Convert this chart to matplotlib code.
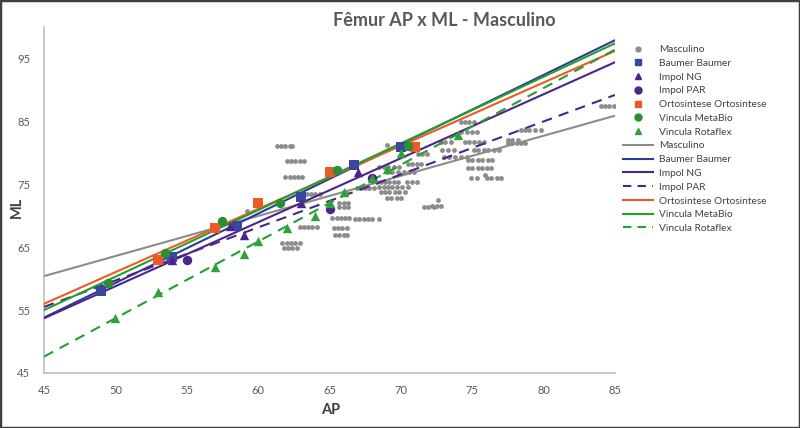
import matplotlib
matplotlib.use("Agg")
import matplotlib.pyplot as plt
from matplotlib.lines import Line2D
from matplotlib.patches import Rectangle

plt.rcParams['font.family'] = ['Lato', 'DejaVu Sans']

# Masculino sample: rows of (ML, [AP values])
masc_rows = [
    (81.1, [61.3, 61.6, 61.9, 62.2, 62.4]),
    (78.7, [62.0, 62.3, 62.6, 62.9, 63.2]),
    (76.2, [61.9, 62.2, 62.5, 62.8, 63.1]),
    (70.8, [59.2]),
    (73.5, [63.4, 63.7, 64.0, 64.3]),
    (68.2, [62.9, 63.2, 63.5, 63.8, 64.1]),
    (65.7, [61.7, 62.0, 62.3, 62.6, 62.9]),
    (64.9, [61.8, 62.1, 62.4, 62.7]),
    (72.0, [65.7, 66.0, 66.3]),
    (71.4, [65.7, 66.0, 66.3]),
    (69.6, [65.2, 65.5, 65.8, 66.1, 66.4]),
    (68.1, [65.3, 65.6, 65.9, 66.2]),
    (66.9, [65.4, 65.7, 66.0, 66.2]),
    (69.5, [66.8, 67.1, 67.4, 67.7, 68.0, 68.5]),
    (74.4, [66.9, 67.2, 67.5, 67.8, 68.1]),
    (77.8, [68.5, 68.8, 69.1, 69.5, 69.9]),
    (77.0, [69.0, 69.4, 69.8, 70.2, 70.6, 70.9]),
    (75.4, [68.3, 68.6, 68.9, 69.2, 69.5, 69.8, 70.4, 70.8, 71.1]),
    (74.6, [68.5, 68.8, 69.1, 69.4, 69.7, 70.1, 70.5]),
    (73.8, [68.6, 68.9, 69.2, 69.6, 69.9, 70.3]),
    (72.8, [69.0, 69.3, 69.7, 70.0]),
    (71.4, [71.6, 71.9, 72.3]),
    (71.6, [72.2, 72.5, 72.8]),
    (72.5, [72.6]),
    (81.2, [69.0]),
    (79.8, [71.2, 71.5, 71.8]),
    (78.3, [70.5, 70.8, 71.1, 71.4]),
    (84.9, [74.2, 74.5, 74.8, 75.1]),
    (83.3, [74.2, 74.6, 75.0, 75.3]),
    (81.7, [72.8, 73.1, 73.5, 74.5, 74.8, 75.1, 75.5, 75.8]),
    (80.5, [72.9, 73.3, 73.7, 75.1, 75.4, 75.8, 76.1, 76.5, 76.9]),
    (79.4, [73.0, 73.4, 73.8, 74.2, 74.6]),
    (78.9, [74.7, 75.0, 75.4, 75.7, 76.1, 76.4]),
    (77.6, [74.7, 75.0, 75.4, 75.7, 76.0, 76.3]),
    (76.5, [75.9]),
    (76.0, [74.9, 75.3, 76.0, 76.3, 76.7, 77.0]),
    (83.6, [78.4, 78.7, 79.0, 79.4, 79.8]),
    (81.6, [77.5, 77.8, 78.1, 78.4, 78.7]),
    (82.0, [77.5, 77.8, 78.2]),
    (87.5, [84.0, 84.3, 84.6, 84.9]),
]
masc_ap = [a for ml, aps in masc_rows for a in aps]
masc_ml = [ml for ml, aps in masc_rows for a in aps]

baumer_ap = [49, 54, 58.5, 63, 66.7, 70]
baumer_ml = [58, 63.5, 68.3, 73, 78, 81]
impol_ng_ap = [54, 58, 59, 63, 67]
impol_ng_ml = [63, 68.3, 67, 72, 77]
impol_par_ap = [55, 65, 68]
impol_par_ml = [63, 71, 76]
orto_ap = [53, 57, 60, 65, 71]
orto_ml = [63, 68, 72, 77, 81]
metabio_ap = [49.5, 53.5, 57.5, 61.5, 65.5, 70.5]
metabio_ml = [59.3, 64, 69.2, 72, 77.2, 81.1]
rotaflex_ap = [50, 53, 57, 59, 60, 62, 64, 65, 66, 68, 69, 70, 74]
rotaflex_ml = [53.7, 57.8, 61.9, 63.9, 66, 68, 70, 72, 73.8, 76, 77.5, 80, 82.8]

# linear trend lines: ML at AP=45 and at AP=85
trend_names = ["Masculino", "Baumer Baumer", "Impol NG", "Impol PAR",
               "Ortosintese Ortosintese", "Vincula MetaBio", "Vincula Rotaflex"]
trend_x = [45, 85]
trend_at45 = [60.4, 53.8, 53.7, 55.5, 56.0, 55.0, 47.6]
trend_at85 = [85.9, 97.9, 94.4, 89.2, 96.2, 97.4, 96.4]

gray = '#8C8C8C'
blue = '#2E3A94'
purple = '#4B2589'
orange = '#EE5A24'
green = '#2A8F34'
green_l = '#22A030'
trend_colors = [gray, blue, purple, purple, orange, green_l, green_l]
trend_dashed = [False, False, False, True, False, False, True]

fig = plt.figure(figsize=(8, 4.28), dpi=100)
ax = fig.add_axes([44/800, 1-373/428, 571/800, 346/428])

ax.scatter(masc_ap, masc_ml, s=12, color=gray, zorder=2, lw=0)
for y0, y1, c, d in zip(trend_at45, trend_at85, trend_colors, trend_dashed):
    ln, = ax.plot(trend_x, [y0, y1], color=c, lw=1.5, zorder=3)
    if d:
        ln.set_dashes((5, 3.5))
ms = 46
ax.scatter(baumer_ap, baumer_ml, marker='s', s=ms, color='#3A47A0', zorder=4, lw=0)
ax.scatter(impol_ng_ap, impol_ng_ml, marker='^', s=ms, color=purple, zorder=4, lw=0)
ax.scatter(impol_par_ap, impol_par_ml, marker='o', s=ms, color=purple, zorder=4, lw=0)
ax.scatter(orto_ap, orto_ml, marker='s', s=ms, color=orange, zorder=4, lw=0)
ax.scatter(metabio_ap, metabio_ml, marker='o', s=ms, color=green, zorder=4, lw=0)
ax.scatter(rotaflex_ap, rotaflex_ml, marker='^', s=ms, color='#2EA23A', zorder=4, lw=0)

ax.set_xlim(45, 85)
ax.set_ylim(45, 100)
ax.set_xticks(range(45, 86, 5))
ax.set_yticks(range(45, 96, 10))
for s in ['top', 'right']:
    ax.spines[s].set_visible(False)
for s in ['left', 'bottom']:
    ax.spines[s].set_color('#BFBFBF')
    ax.spines[s].set_linewidth(1.2)
ax.tick_params(length=0, labelsize=8, labelcolor='#595959')
ax.tick_params(axis='x', pad=9)
ax.tick_params(axis='y', pad=10)

fig.text(0.555, 0.952, "Fêmur AP x ML - Masculino", ha='center', va='center',
         fontsize=13, fontweight='bold', color='#595959')
fig.text(0.021, 0.516, "ML", rotation=90, ha='center', va='center',
         fontsize=10.5, fontweight='bold', color='#404040')
fig.text(0.413, 0.042, "AP", ha='center', va='center',
         fontsize=10.5, fontweight='bold', color='#404040')

handles = [
    Line2D([], [], ls='none', marker='o', ms=3.5, color=gray),
    Line2D([], [], ls='none', marker='s', ms=5, color='#3A47A0'),
    Line2D([], [], ls='none', marker='^', ms=5, color=purple),
    Line2D([], [], ls='none', marker='o', ms=5, color=purple),
    Line2D([], [], ls='none', marker='s', ms=5, color=orange),
    Line2D([], [], ls='none', marker='o', ms=5, color=green),
    Line2D([], [], ls='none', marker='^', ms=5, color='#2EA23A'),
]
labels = ["Masculino", "Baumer Baumer", "Impol NG", "Impol PAR",
          "Ortosintese Ortosintese", "Vincula MetaBio", "Vincula Rotaflex"]
for c, d in zip(trend_colors, trend_dashed):
    h = Line2D([], [], color=c, lw=1.5)
    if d:
        h.set_dashes((4, 3))
    handles.append(h)
labels += trend_names
fig.legend(handles, labels, loc='upper left', bbox_to_anchor=(619/800, 1-41/428),
           frameon=False, fontsize=7.3, labelspacing=0.46, handlelength=3.0,
           handletextpad=0.55, labelcolor='#404040', borderaxespad=0)

fig.patches.append(Rectangle((0, 0), 1, 1, transform=fig.transFigure, fill=False,
                             ec='#404040', lw=2.5))
fig.savefig("out.png", dpi=100)
